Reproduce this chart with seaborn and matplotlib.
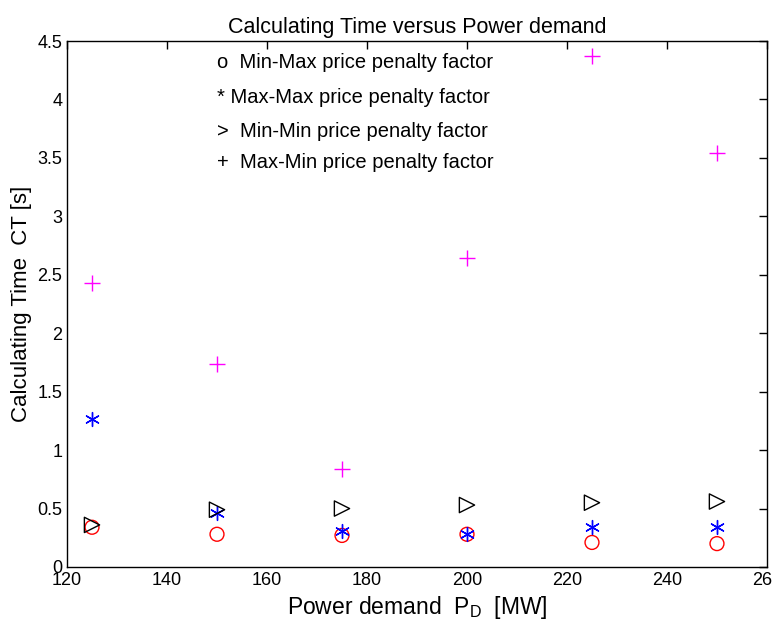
import matplotlib
matplotlib.use("Agg")
import matplotlib.pyplot as plt
import seaborn as sns
import pandas as pd

sns.set_style("white")
plt.rcParams['font.family'] = ['Liberation Sans', 'DejaVu Sans']
plt.rcParams['text.color'] = 'black'
plt.rcParams['axes.labelcolor'] = 'black'
plt.rcParams['xtick.color'] = 'black'
plt.rcParams['ytick.color'] = 'black'

power_demand = [125, 150, 175, 200, 225, 250]
min_max = [0.34, 0.28, 0.27, 0.28, 0.21, 0.20]
max_max = [1.27, 0.46, 0.31, 0.28, 0.34, 0.34]
min_min = [0.36, 0.49, 0.50, 0.53, 0.55, 0.56]
max_min = [2.43, 1.74, 0.84, 2.64, 4.37, 3.54]

legend_lines = ["o  Min-Max price penalty factor",
                "* Max-Max price penalty factor",
                ">  Min-Min price penalty factor",
                "+  Max-Min price penalty factor"]

fig = plt.figure(figsize=(7.72, 6.38), dpi=100)
ax = fig.add_axes([0.0868, 0.1113, 0.9067, 0.8244])

series = [
    (min_max, 'o', 'red', 10),
    (max_max, (6, 2, 0), 'blue', 10),
    (min_min, '>', 'black', 11),
    (max_min, '+', 'magenta', 11),
]
for vals, mk, col, sz in series:
    df = pd.DataFrame({'x': power_demand, 'y': vals})
    if mk in ('o', '>'):
        sns.scatterplot(data=df, x='x', y='y', ax=ax, marker=mk, s=sz**2,
                        facecolors='none', edgecolor=col, linewidth=1.0)
    else:
        sns.scatterplot(data=df, x='x', y='y', ax=ax, marker=mk, s=sz**2,
                        color=col, linewidth=1.0)

ax.set_xlim(120, 260)
ax.set_ylim(0, 4.5)
ax.set_xticks(range(120, 261, 20))
ax.set_yticks([0, 0.5, 1, 1.5, 2, 2.5, 3, 3.5, 4, 4.5])
ax.set_yticklabels(['0', '0.5', '1', '1.5', '2', '2.5', '3', '3.5', '4', '4.5'])
ax.tick_params(direction='in', length=6, top=True, right=True, labelsize=13, width=1)
for s in ax.spines.values():
    s.set_color('black')
    s.set_linewidth(1)
ax.set_title('Calculating Time versus Power demand', fontsize=15.5, color='black')
ax.set_xlabel('Power demand  P$_\\mathregular{D}$  [MW]', fontsize=16.5)
ax.set_ylabel('Calculating Time  CT [s]', fontsize=16)

ys = [4.32, 4.02, 3.73, 3.46]
for t, y in zip(legend_lines, ys):
    ax.text(150.0, y, t, fontsize=14.5, va='center', ha='left')

fig.savefig('out.png', dpi=100)
